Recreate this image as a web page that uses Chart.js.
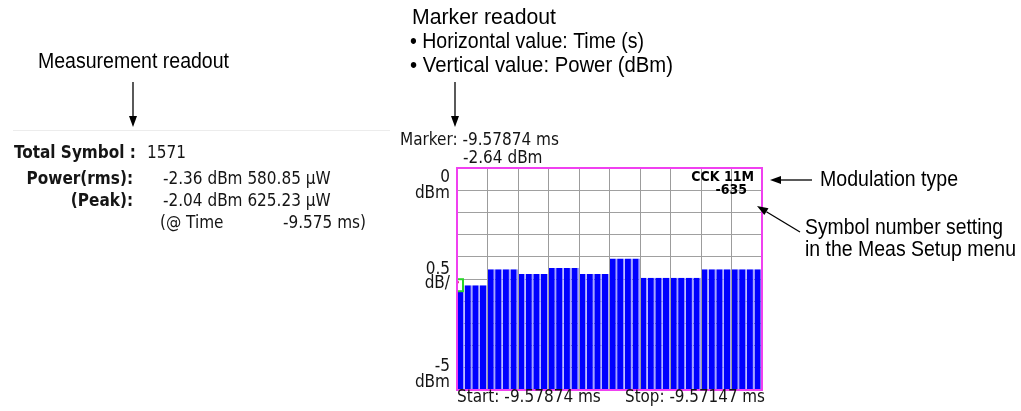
<!DOCTYPE html>
<html>
<head>
<meta charset="utf-8">
<script src="https://cdn.jsdelivr.net/npm/chart.js@4/dist/chart.umd.min.js"></script>
<style>
  html, body { margin: 0; padding: 0; background: #fff; }
  canvas { display: block; }
</style>
</head>
<body>
<canvas id="chart" width="1021" height="411"></canvas>
<script>
// sample index along the time axis (4 samples per symbol, 10 symbols)
const sampleIndex = Array.from({ length: 40 }, (_, i) => i + 1);

// power per sample, dBm
const powerDbm = [
  -2.64, -2.64, -2.64, -2.64,
  -2.28, -2.28, -2.28, -2.28,
  -2.39, -2.39, -2.39, -2.39,
  -2.25, -2.25, -2.25, -2.25,
  -2.39, -2.39, -2.39, -2.39,
  -2.04, -2.04, -2.04, -2.04,
  -2.47, -2.47, -2.47, -2.47,
  -2.47, -2.47, -2.47, -2.47,
  -2.28, -2.28, -2.28, -2.28,
  -2.28, -2.28, -2.28, -2.28
];

const yMin = -5;
const yMax = 0;
const yStep = 0.5;
const yTickLabels = [
  { value: 0, lines: ['0', 'dBm'] },
  { value: -2.5, lines: ['0.5', 'dB/'] },
  { value: -5, lines: ['-5', 'dBm'] }
];

const startTime = '-9.57874 ms';
const stopTime = '-9.57147 ms';
const markerTime = '-9.57874 ms';
const markerPower = -2.64;
const modulation = 'CCK 11M';
const symbolNumber = -635;

const totalSymbol = 1571;
const powerRms = [-2.36, 580.85];
const powerPeak = [-2.04, 625.23];
const peakTime = -9.575;

const SCREEN = '"DejaVu Sans Condensed", "DejaVu Sans", sans-serif';
const NOTE = '"Liberation Sans", Arial, sans-serif';

function text(ctx, str, x, y, font, align, maxWidth) {
  ctx.font = font;
  ctx.textAlign = align || 'left';
  ctx.textBaseline = 'middle';
  if (maxWidth) ctx.fillText(str, x, y, maxWidth);
  else ctx.fillText(str, x, y);
}

function arrow(ctx, x1, y1, x2, y2) {
  const a = Math.atan2(y2 - y1, x2 - x1);
  const len = 11, half = 4;
  ctx.strokeStyle = '#000';
  ctx.fillStyle = '#000';
  ctx.lineWidth = 1.3;
  ctx.beginPath();
  ctx.moveTo(x1, y1);
  ctx.lineTo(x2 - Math.cos(a) * len, y2 - Math.sin(a) * len);
  ctx.stroke();
  ctx.beginPath();
  ctx.moveTo(x2, y2);
  ctx.lineTo(x2 - Math.cos(a) * len - Math.sin(a) * half, y2 - Math.sin(a) * len + Math.cos(a) * half);
  ctx.lineTo(x2 - Math.cos(a) * len + Math.sin(a) * half, y2 - Math.sin(a) * len - Math.cos(a) * half);
  ctx.closePath();
  ctx.fill();
}

const screenPlugin = {
  id: 'screen',
  afterDatasetsDraw(chart) {
    const { ctx, chartArea: a } = chart;
    const xs = chart.scales.x, ys = chart.scales.y;
    // marker box on the first sample
    const half = (xs.getPixelForValue(1) - xs.getPixelForValue(0)) / 2;
    const mx = xs.getPixelForValue(0) - half;
    const my = ys.getPixelForValue(markerPower);
    ctx.save();
    ctx.beginPath();
    ctx.rect(a.left, a.top, a.right - a.left, a.bottom - a.top);
    ctx.clip();
    ctx.fillStyle = '#fff';
    ctx.fillRect(mx - 6, my - 6, 12, 12);
    ctx.strokeStyle = '#2ad62a';
    ctx.lineWidth = 2;
    ctx.strokeRect(mx - 6, my - 6, 12, 12);
    ctx.fillStyle = '#e04080';
    ctx.fillRect(mx, my - 4, 2, 2);
    ctx.restore();
  },
  afterDraw(chart) {
    const { ctx, chartArea: a } = chart;
    const ys = chart.scales.y;
    ctx.save();

    // plot frame
    ctx.strokeStyle = '#f040f0';
    ctx.lineWidth = 2;
    ctx.strokeRect(a.left, a.top, a.right - a.left, a.bottom - a.top);

    ctx.fillStyle = '#151515';
    // y axis readouts
    const offs = [[9.5, 25.5], [-9.5, 5], [-23.5, -7.5]];
    yTickLabels.forEach((t, i) => {
      const py = ys.getPixelForValue(t.value);
      text(ctx, t.lines[0], a.left - 7, py + offs[i][0], '17px ' + SCREEN, 'right');
      text(ctx, t.lines[1], a.left - 7, py + offs[i][1], '17px ' + SCREEN, 'right');
    });

    // marker readout
    text(ctx, 'Marker: ' + markerTime, 400, 141, '17px ' + SCREEN, 'left', 160);
    text(ctx, markerPower.toFixed(2) + ' dBm', 463, 159, '17px ' + SCREEN, 'left');

    // start / stop
    text(ctx, 'Start: ' + startTime, 457, 398, '17px ' + SCREEN, 'left', 144);
    text(ctx, 'Stop: ' + stopTime, 765, 398, '17px ' + SCREEN, 'right', 140);

    // modulation and symbol number
    ctx.fillStyle = '#000';
    text(ctx, modulation, a.right - 8, 177, 'bold 14px ' + SCREEN, 'right', 64);
    text(ctx, String(symbolNumber), a.right - 15, 190, 'bold 14px ' + SCREEN, 'right');

    // measurement readout
    ctx.strokeStyle = '#ececec';
    ctx.lineWidth = 1;
    ctx.beginPath();
    ctx.moveTo(13, 130.5);
    ctx.lineTo(390, 130.5);
    ctx.stroke();
    ctx.fillStyle = '#151515';
    text(ctx, 'Total Symbol :', 14, 154, 'bold 17px ' + SCREEN, 'left', 123);
    text(ctx, String(totalSymbol), 147, 154, '17px ' + SCREEN, 'left');
    text(ctx, 'Power(rms):', 133, 180, 'bold 17px ' + SCREEN, 'right');
    text(ctx, '(Peak):', 133, 202, 'bold 17px ' + SCREEN, 'right');
    text(ctx, powerRms[0].toFixed(2) + ' dBm ' + powerRms[1].toFixed(2) + ' \u00b5W', 163, 180, '17px ' + SCREEN, 'left');
    text(ctx, powerPeak[0].toFixed(2) + ' dBm ' + powerPeak[1].toFixed(2) + ' \u00b5W', 163, 202, '17px ' + SCREEN, 'left');
    text(ctx, '(@ Time', 160, 224, '17px ' + SCREEN, 'left');
    text(ctx, peakTime.toFixed(3) + ' ms)', 366, 224, '17px ' + SCREEN, 'right');

    // call-outs
    ctx.fillStyle = '#000';
    const nf = '22px ' + NOTE;
    text(ctx, 'Measurement readout', 38, 62, nf, 'left', 191);
    text(ctx, 'Marker readout', 412, 18, nf, 'left', 144);
    text(ctx, '\u2022 Horizontal value: Time (s)', 410, 42, nf, 'left', 234);
    text(ctx, '\u2022 Vertical value: Power (dBm)', 410, 66, nf, 'left', 263);
    text(ctx, 'Modulation type', 820, 180, nf, 'left', 138);
    text(ctx, 'Symbol number setting', 805, 228, nf, 'left', 198);
    text(ctx, 'in the Meas Setup menu', 805, 250, nf, 'left', 211);

    arrow(ctx, 133, 82, 133, 127);
    arrow(ctx, 455, 82, 455, 127);
    arrow(ctx, 812, 180, 770, 180);
    arrow(ctx, 800, 232, 757, 206);

    ctx.restore();
  }
};

new Chart(document.getElementById('chart').getContext('2d'), {
  type: 'bar',
  data: {
    labels: sampleIndex,
    datasets: [{
      data: powerDbm,
      base: yMin,
      backgroundColor: '#0000ff',
      borderColor: '#a4a4ff',
      borderWidth: { left: 0, right: 1.5, top: 0, bottom: 0 },
      borderSkipped: false,
      barPercentage: 1,
      categoryPercentage: 1,
      inflateAmount: 0
    }]
  },
  options: {
    responsive: false,
    animation: false,
    devicePixelRatio: 1,
    layout: { padding: { left: 457, top: 168, right: 259, bottom: 21 } },
    plugins: { legend: { display: false }, tooltip: { enabled: false } },
    scales: {
      x: {
        ticks: { display: false },
        border: { display: false },
        grid: {
          z: 1,
          drawTicks: false,
          lineWidth: 1,
          color: c => (c.index % 4 === 0 ? '#9c9c9c' : 'rgba(0,0,0,0)')
        },
        afterFit: s => { s.height = 0; }
      },
      y: {
        min: yMin,
        max: yMax,
        ticks: { display: false, stepSize: yStep },
        border: { display: false },
        grid: { color: '#a0a0a0', drawTicks: false, lineWidth: 1 },
        afterFit: s => { s.width = 0; }
      }
    }
  },
  plugins: [screenPlugin]
});
</script>
</body>
</html>
